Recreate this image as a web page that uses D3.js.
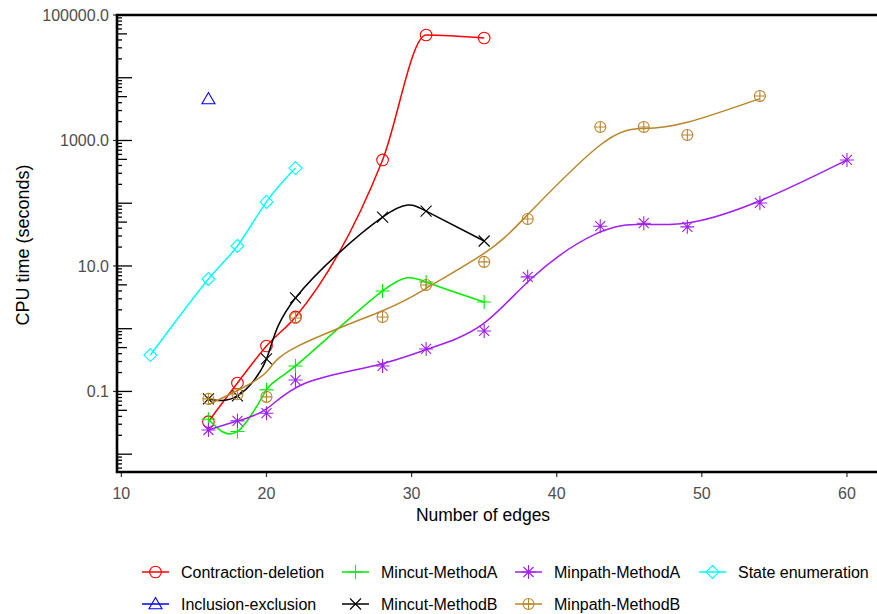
<!DOCTYPE html>
<html>
<head>
<meta charset="utf-8">
<script src="https://cdn.jsdelivr.net/npm/d3@7"></script>
<style>
  body { margin: 0; background: #fff; }
  text { font-family: "Liberation Sans", Arial, sans-serif; }
</style>
</head>
<body>
<script>
// values (x = number of edges, y = CPU seconds)
var contractionEdges = [16, 18, 20, 22, 28, 31, 35];
var contractionTime = [0.033, 0.136, 0.53, 1.54, 489, 48000, 43000];
var inclusionEdges = [16];
var inclusionTime = [4580];
var mincutAEdges = [16, 18, 20, 22, 28, 31, 35];
var mincutATime = [0.036, 0.023, 0.106, 0.255, 4.0, 5.56, 2.67];
var mincutBEdges = [16, 18, 20, 22, 28, 31, 35];
var mincutBTime = [0.076, 0.085, 0.33, 3.09, 60, 75, 25];
var minpathAEdges = [16, 18, 20, 22, 28, 31, 35, 38, 43, 46, 49, 54, 60];
var minpathATime = [0.0243, 0.034, 0.045, 0.152, 0.255, 0.475, 0.92, 6.7, 43, 48, 42, 101, 489];
var minpathBEdges = [16, 18, 20, 22, 28, 31, 35, 38, 43, 46, 49, 54];
var minpathBTime = [0.076, 0.09, 0.082, 1.48, 1.54, 4.98, 11.6, 56, 1640, 1640, 1225, 5120];
var stateEdges = [12, 16, 18, 20, 22];
var stateTime = [0.38, 6.2, 20.8, 105, 363];

var xTicks = [10, 20, 30, 40, 50, 60];
var yLabelTicks = [0.1, 10, 1000, 100000];

var width = 877, height = 614;

// series table, built from the arrays above
// smooth = strength of the smoothing spline fitted in log space (0 = pass through points)
var allSeries = [
    {name: "Contraction-deletion", x: contractionEdges, y: contractionTime, color: "#ff0000", shape: "circle", curve: d3.curveMonotoneX, smooth: 0},
    {name: "Inclusion-exclusion", x: inclusionEdges, y: inclusionTime, color: "#0000ff", shape: "triangle", curve: d3.curveLinear, smooth: 0},
    {name: "Mincut-MethodA", x: mincutAEdges, y: mincutATime, color: "#00ee00", shape: "plus", curve: d3.curveNatural, smooth: 0},
    {name: "Mincut-MethodB", x: mincutBEdges, y: mincutBTime, color: "#000000", shape: "cross", curve: d3.curveNatural, smooth: 0},
    {name: "Minpath-MethodA", x: minpathAEdges, y: minpathATime, color: "#a020f0", shape: "star", curve: d3.curveBasis, smooth: 0},
    {name: "Minpath-MethodB", x: minpathBEdges, y: minpathBTime, color: "#b8862b", shape: "circleplus", curve: d3.curveNatural, smooth: 5},
    {name: "State enumeration", x: stateEdges, y: stateTime, color: "#00ffff", shape: "diamond", curve: d3.curveNatural, smooth: 0}
];

// penalised least squares on log10 values (second divided differences)
function smoothLog(xs, ys, lambda) {
    var n = xs.length;
    var ly = ys.map(function(v) { return Math.log10(v); });
    var A = [];
    for (var i = 0; i < n; i++) {
        A.push([]);
        for (var j = 0; j < n; j++) A[i].push(i == j ? 1 : 0);
    }
    for (i = 0; i < n - 2; i++) {
        var h1 = xs[i + 1] - xs[i], h2 = xs[i + 2] - xs[i + 1];
        var row = [1 / h1, -(1 / h1 + 1 / h2), 1 / h2];
        for (var a = 0; a < 3; a++)
            for (var b = 0; b < 3; b++)
                A[i + a][i + b] += lambda * row[a] * row[b];
    }
    // gaussian elimination
    var z = ly.slice();
    for (i = 0; i < n; i++) {
        for (j = i + 1; j < n; j++) {
            var f = A[j][i] / A[i][i];
            for (var k = i; k < n; k++) A[j][k] -= f * A[i][k];
            z[j] -= f * z[i];
        }
    }
    for (i = n - 1; i >= 0; i--) {
        for (j = i + 1; j < n; j++) z[i] -= A[i][j] * z[j];
        z[i] /= A[i][i];
    }
    return z.map(function(v) { return Math.pow(10, v); });
}

var svg = d3.select("body").append("svg")
    .attr("width", width)
    .attr("height", height);

var plotLeft = 117, plotRight = 877, plotTop = 15, plotBottom = 472;

var x = d3.scaleLinear()
    .domain([9.7, 62.07])
    .range([plotLeft, plotRight]);

var y = d3.scaleLog()
    .domain([0.0052, 100000])
    .range([plotBottom, plotTop]);

// marker shapes, roughly like R's pch symbols
function markerPath(shape) {
    if (shape == "triangle") return "M0,-6.5L6.5,4.8L-6.5,4.8Z";
    if (shape == "plus") return "M-7,0H7M0,-7V7";
    if (shape == "cross") return "M-5.5,-5.5L5.5,5.5M-5.5,5.5L5.5,-5.5";
    if (shape == "star") return "M-7,0H7M0,-7V7M-5,-5L5,5M-5,5L5,-5";
    if (shape == "diamond") return "M0,-6.5L6.5,0L0,6.5L-6.5,0Z";
    if (shape == "circleplus") return "M-5.5,0H5.5M0,-5.5V5.5";
    return "";
}

function drawMarker(g, s) {
    if (s.shape == "circle" || s.shape == "circleplus") {
        g.append("circle")
            .attr("r", s.shape == "circle" ? 5.8 : 5.5)
            .style("fill", "none")
            .style("stroke", s.color)
            .style("stroke-width", 1.1);
    }
    if (s.shape != "circle") {
        g.append("path")
            .attr("d", markerPath(s.shape))
            .style("fill", "none")
            .style("stroke", s.color)
            .style("stroke-width", 1.1);
    }
}

// lines
var line = d3.line()
    .x(function(d) { return x(d[0]); })
    .y(function(d) { return y(d[1]); });

allSeries.forEach(function(s) {
    var pts = s.x.map(function(v, i) { return [v, s.y[i]]; });
    if (pts.length > 1) {
        var fitY = s.smooth > 0 ? smoothLog(s.x, s.y, s.smooth) : s.y;
        var fitPts = s.x.map(function(v, i) { return [v, fitY[i]]; });
        svg.append("path")
            .datum(fitPts)
            .attr("d", line.curve(s.curve))
            .style("fill", "none")
            .style("stroke", s.color)
            .style("stroke-width", 1.5);
    }
    svg.append("g").selectAll("g")
        .data(pts)
        .enter().append("g")
        .attr("transform", function(d) { return "translate(" + x(d[0]) + "," + y(d[1]) + ")"; })
        .each(function() { drawMarker(d3.select(this), s); });
});

// y axis log ticks (long at decades, medium at 5s, short otherwise)
var yTicks = [];
for (var k = -3; k <= 5; k++) {
    for (var m = 1; m <= 9; m++) {
        var v = m * Math.pow(10, k);
        if (v >= 0.0052 && v <= 100000) yTicks.push({v: v, m: m});
    }
}
svg.append("g").selectAll("line")
    .data(yTicks)
    .enter().append("line")
    .attr("x1", plotLeft)
    .attr("x2", function(d) { return plotLeft + (d.m == 1 ? 15 : (d.m == 5 ? 10 : 5)); })
    .attr("y1", function(d) { return y(d.v); })
    .attr("y2", function(d) { return y(d.v); })
    .style("stroke", "#000")
    .style("stroke-width", 1.3);

var yLab = svg.append("g").selectAll("g")
    .data(yLabelTicks)
    .enter().append("g")
    .attr("transform", function(d) { return "translate(0," + y(d) + ")"; });
yLab.append("line")
    .attr("x1", plotLeft - 4).attr("x2", plotLeft)
    .style("stroke", "#333").style("stroke-width", 1.2);
yLab.append("text")
    .attr("x", plotLeft - 8)
    .attr("dy", "0.35em")
    .attr("text-anchor", "end")
    .style("font-size", "16px")
    .style("fill", "#4d4d4d")
    .text(d3.format(".1f"));

// x axis ticks and labels
var xLab = svg.append("g").selectAll("g")
    .data(xTicks)
    .enter().append("g")
    .attr("transform", function(d) { return "translate(" + x(d) + ",0)"; });
xLab.append("line")
    .attr("y1", plotBottom).attr("y2", plotBottom + 5)
    .style("stroke", "#333").style("stroke-width", 1.2);
xLab.append("text")
    .attr("y", plotBottom + 27)
    .attr("text-anchor", "middle")
    .style("font-size", "16px")
    .style("fill", "#4d4d4d")
    .text(function(d) { return d; });

// frame lines (left, bottom, top)
svg.append("path")
    .attr("d", "M" + plotRight + "," + plotTop + "H" + plotLeft + "V" + plotBottom + "H" + plotRight)
    .style("fill", "none")
    .style("stroke", "#000")
    .style("stroke-width", 2.6);

// axis titles
svg.append("text")
    .attr("x", 483)
    .attr("y", 521)
    .attr("text-anchor", "middle")
    .style("font-size", "17.5px")
    .text("Number of edges");

svg.append("text")
    .attr("transform", "translate(29,245) rotate(-90)")
    .attr("text-anchor", "middle")
    .style("font-size", "18px")
    .text("CPU time (seconds)");

// legend, two rows
var legendCols = [142, 342, 515, 699];
var legendOrder = [
    {s: 0, col: 0, row: 0}, {s: 2, col: 1, row: 0}, {s: 4, col: 2, row: 0}, {s: 6, col: 3, row: 0},
    {s: 1, col: 0, row: 1}, {s: 3, col: 1, row: 1}, {s: 5, col: 2, row: 1}
];
var legend = svg.append("g").selectAll("g")
    .data(legendOrder)
    .enter().append("g")
    .attr("transform", function(d) { return "translate(" + legendCols[d.col] + "," + (572 + d.row * 32) + ")"; });
legend.each(function(d) {
    var g = d3.select(this);
    var s = allSeries[d.s];
    g.append("line")
        .attr("x1", 0).attr("x2", 27)
        .style("stroke", s.color)
        .style("stroke-width", 1.5);
    var mk = g.append("g").attr("transform", "translate(13.5,0)");
    drawMarker(mk, s);
    g.append("text")
        .attr("x", 39)
        .attr("dy", "0.35em")
        .style("font-size", "16px")
        .style("fill", "#000")
        .text(s.name);
});
</script>
</body>
</html>
